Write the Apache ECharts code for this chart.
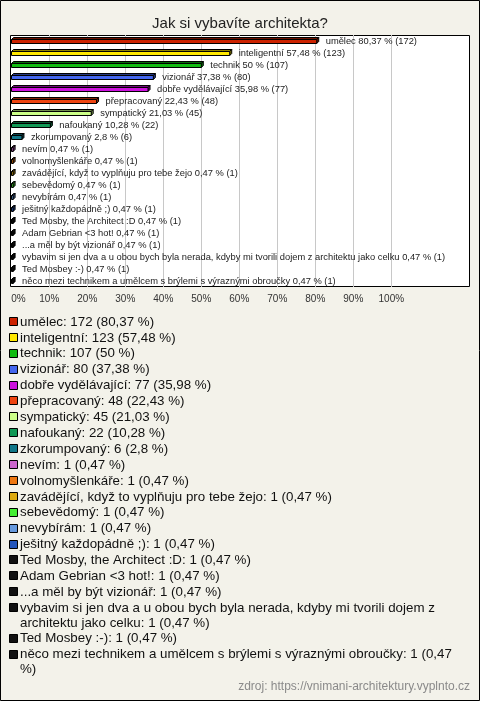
<!DOCTYPE html>
<html>
<head>
<meta charset="utf-8">
<script src="https://cdn.jsdelivr.net/npm/echarts@6/dist/echarts.min.js"></script>
<style>
html,body{margin:0;padding:0;background:#f3f2ea;}
#c{width:480px;height:701px;}
</style>
</head>
<body>
<div id="c"></div>
<script>
const TITLE = 'Jak si vybavíte architekta?';
const SOURCE = 'zdroj: https://vnimani-architektury.vyplnto.cz';
const categories = [
  'umělec','inteligentní','technik','vizionář','dobře vydělávající','přepracovaný',
  'sympatický','nafoukaný','zkorumpovaný','nevím','volnomyšlenkáře',
  'zavádějící, když to vyplňuju pro tebe žejo','sebevědomý','nevybírám',
  'ješitný každopádně ;)','Ted Mosby, the Architect :D','Adam Gebrian <3 hot!',
  '...a měl by být vizionář',
  'vybavim si jen dva a u obou bych byla nerada, kdyby mi tvorili dojem z architektu jako celku',
  'Ted Mosbey :-)','něco mezi technikem a umělcem s brýlemi s výraznými obroučky'
];
const counts = [172,123,107,80,77,48,45,22,6,1,1,1,1,1,1,1,1,1,1,1,1];
const percents = [80.37,57.48,50,37.38,35.98,22.43,21.03,10.28,2.8,0.47,0.47,0.47,0.47,0.47,0.47,0.47,0.47,0.47,0.47,0.47,0.47];
const colors = ['#cc2200','#ffe800','#11bb11','#4466ee','#cc11dd','#ee4411','#ccff88','#119955',
  '#117788','#cc66cc','#ee7711','#ddaa11','#44ee33','#6699dd','#2255bb',
  '#111111','#111111','#111111','#111111','#111111','#111111'];
const xTicks = [0,10,20,30,40,50,60,70,80,90,100];

const FONT = '"Liberation Sans", Arial, sans-serif';
const LEG_FS = 13.33;
const fmt = v => String(v).replace('.', ',');

function darker(hex){
  const n = parseInt(hex.slice(1),16);
  const r = Math.round(((n>>16)&255)*0.55), g = Math.round(((n>>8)&255)*0.55), b = Math.round((n&255)*0.55);
  return 'rgb('+r+','+g+','+b+')';
}

const chart = echarts.init(document.getElementById('c'), null, {renderer:'canvas'});

const cv = document.createElement('canvas').getContext('2d');
cv.font = LEG_FS + 'px ' + FONT;
function wrap(text, w){
  const words = text.split(' ');
  const lines = []; let cur = '';
  for (const wd of words){
    const t = cur ? cur + ' ' + wd : wd;
    if (cv.measureText(t).width > w && cur){ lines.push(cur); cur = wd; }
    else cur = t;
  }
  if (cur) lines.push(cur);
  return lines;
}
const graphics = [];
graphics.push({type:'rect', z:-10, shape:{x:10.5,y:35.5,width:459,height:251}, style:{fill:'#ffffff',stroke:'#000',lineWidth:1}, silent:true});
let yc = 322;
const LH = 14.7, GAP = 1.2;
categories.forEach((name,i)=>{
  const lines = wrap(name + ': ' + counts[i] + ' (' + fmt(percents[i]) + ' %)', 442);
  graphics.push({type:'rect', shape:{x:9.5,y:Math.round(yc-4)-0.5,width:8,height:8}, style:{fill:colors[i],stroke:'#000',lineWidth:1}, silent:true});
  graphics.push({type:'text', x:20, y:yc - LH/2, style:{text:lines.join('\n'), fontSize:LEG_FS, fontFamily:FONT, fill:'#111', verticalAlign:'top', lineHeight:LH}, silent:true});
  yc += lines.length*LH + GAP;
});
graphics.push({type:'text', x:470, y:687, style:{text:SOURCE, fontSize:12, fontFamily:FONT, fill:'#8a8a8a', align:'right', verticalAlign:'middle'}, silent:true});
graphics.push({type:'rect', shape:{x:0.5,y:0.5,width:479,height:700}, style:{fill:'none',stroke:'#000',lineWidth:1}, silent:true});

const data = categories.map((c,i)=>({value:[percents[i], i], itemStyle:{color:colors[i]}}));

chart.setOption({
  backgroundColor:'#f3f2ea',
  animation:false,
  title:{text:TITLE, left:'center', top:11, textStyle:{fontSize:15, fontWeight:'normal', color:'#222', fontFamily:FONT}},
  grid:{left:11.3, right:88.7, top:35, bottom:414, containLabel:false},
  xAxis:{type:'value', min:0, max:100, interval:10,
    axisLine:{show:false}, axisTick:{show:false},
    axisLabel:{formatter: v => xTicks.indexOf(v) >= 0 ? v + '%' : '', fontSize:10, color:'#333', fontFamily:FONT, margin:7, alignMinLabel:'left'},
    splitLine:{show:true, showMinLine:false, lineStyle:{color:'#c8c8c8', width:1}}},
  yAxis:{type:'category', data:categories, inverse:true, show:false},
  graphic:{elements:graphics},
  series:[{
    type:'custom', clip:false, data:data, encode:{x:0,y:1},
    renderItem:(params, api)=>{
      const i = params.dataIndex;
      const v = api.value(0), cat = api.value(1);
      const p0 = api.coord([0, cat]), p1 = api.coord([v, cat]);
      const col = api.visual('color');
      const x0 = Math.round(p0[0]) + 0.5, x1 = Math.max(x0 + 1.5, p1[0]);
      const yT = Math.round(p0[1]) - 1.5, h = 4, d = 2;
      const dk = darker(col);
      return {type:'group', children:[
        {type:'polygon', shape:{points:[[x0,yT],[x0+d,yT-d],[x1+d,yT-d],[x1,yT]]}, style:{fill:dk, stroke:'#000', lineWidth:1}},
        {type:'polygon', shape:{points:[[x1,yT],[x1+d,yT-d],[x1+d,yT-d+h],[x1,yT+h]]}, style:{fill:dk, stroke:'#000', lineWidth:1}},
        {type:'rect', shape:{x:x0, y:yT, width:x1-x0, height:h}, style:{fill:col, stroke:'#000', lineWidth:1}},
        {type:'text', x:p1[0] + 9, y:p0[1], style:{text:categories[i] + ' ' + fmt(percents[i]) + ' % (' + counts[i] + ')', fontSize:9.33, fontFamily:FONT, fill:'#222', verticalAlign:'middle'}}
      ]};
    }
  }]
});
</script>
</body>
</html>
